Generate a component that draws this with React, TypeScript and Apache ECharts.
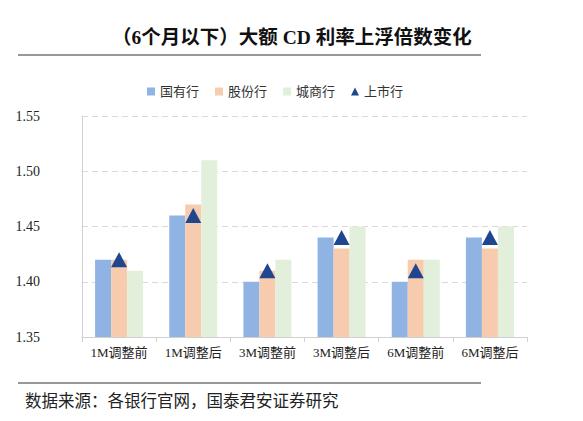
import React, { useEffect, useRef } from 'react';
import * as echarts from 'echarts';

// 分类与各系列数值
const categories = ['1M调整前', '1M调整后', '3M调整前', '3M调整后', '6M调整前', '6M调整后'];
const stateBanks = [1.42, 1.46, 1.40, 1.44, 1.40, 1.44];
const jointStockBanks = [1.42, 1.47, 1.41, 1.43, 1.42, 1.43];
const cityBanks = [1.41, 1.51, 1.42, 1.45, 1.42, 1.45];
const listedBanks = [1.42, 1.46, 1.41, 1.44, 1.41, 1.44];
const yTicks = [1.35, 1.40, 1.45, 1.50, 1.55];

const serif = '"Liberation Serif", "Times New Roman", "Noto Sans CJK SC", serif';

const App = () => {
    const chartRef = useRef(null);

    useEffect(() => {
        document.body.style.margin = '0';
        const myChart = echarts.init(chartRef.current, null, { renderer: 'svg' });

        const option = {
            animation: false,
            backgroundColor: '#ffffff',
            textStyle: { fontFamily: serif },
            graphic: [
                {
                    type: 'text',
                    left: 112,
                    top: 28,
                    style: {
                        text: '（6个月以下）大额 CD 利率上浮倍数变化',
                        fontFamily: serif,
                        fontSize: 19.5,
                        fontWeight: 'bold',
                        fill: '#111',
                    },
                },
                {
                    type: 'line',
                    shape: { x1: 18, y1: 55, x2: 481, y2: 55 },
                    style: { stroke: '#333', lineWidth: 1.2 },
                },
                {
                    type: 'line',
                    shape: { x1: 18, y1: 383, x2: 481, y2: 383 },
                    style: { stroke: '#333', lineWidth: 1.2 },
                },
                {
                    type: 'text',
                    left: 25,
                    top: 393,
                    style: {
                        text: '数据来源：各银行官网，国泰君安证券研究',
                        fontFamily: serif,
                        fontSize: 16.5,
                        fill: '#222',
                    },
                },
            ],
            legend: {
                left: 142,
                top: 80,
                itemWidth: 8,
                itemHeight: 8,
                itemGap: 16,
                textStyle: { fontFamily: serif, fontSize: 13, color: '#333' },
                data: [
                    { name: '国有行', icon: 'rect' },
                    { name: '股份行', icon: 'rect' },
                    { name: '城商行', icon: 'rect' },
                    { name: '上市行', icon: 'triangle' },
                ],
            },
            grid: { left: 82, right: 56, top: 116, bottom: 84 },
            xAxis: {
                type: 'category',
                data: categories,
                axisLine: { lineStyle: { color: '#d0d0d0' } },
                axisTick: { show: true, alignWithLabel: false, length: 5, lineStyle: { color: '#d0d0d0' } },
                axisLabel: { color: '#222', fontSize: 13, fontFamily: serif, margin: 9, interval: 0 },
            },
            yAxis: {
                type: 'value',
                min: 1.35,
                max: 1.55,
                interval: 0.05,
                axisLine: { show: true, lineStyle: { color: '#d0d0d0' } },
                axisTick: { show: false },
                splitLine: { lineStyle: { color: '#d9d9d9', type: [6, 4] } },
                axisLabel: {
                    color: '#222',
                    fontSize: 14,
                    fontFamily: serif,
                    margin: 42,
                    formatter: (v: number) => {
                        const t = yTicks.find((x) => Math.abs(x - v) < 1e-6);
                        return (t ?? v).toFixed(2);
                    },
                },
            },
            series: [
                {
                    name: '国有行',
                    type: 'bar',
                    data: stateBanks,
                    barWidth: 16,
                    barGap: '0%',
                    itemStyle: { color: '#8fb3e2' },
                },
                {
                    name: '股份行',
                    type: 'bar',
                    data: jointStockBanks,
                    barWidth: 16,
                    barGap: '0%',
                    itemStyle: { color: '#f7cbad' },
                },
                {
                    name: '城商行',
                    type: 'bar',
                    data: cityBanks,
                    barWidth: 16,
                    barGap: '0%',
                    itemStyle: { color: '#e2efda' },
                },
                {
                    name: '上市行',
                    type: 'scatter',
                    data: listedBanks,
                    symbol: 'triangle',
                    symbolSize: [16, 15],
                    itemStyle: { color: '#1f468f', opacity: 1 },
                    z: 5,
                },
            ],
        };

        myChart.setOption(option);

        return () => {
            myChart.dispose();
        };
    }, []);

    return <div ref={chartRef} style={{ width: '583px', height: '421px' }} />;
};

export default App;
